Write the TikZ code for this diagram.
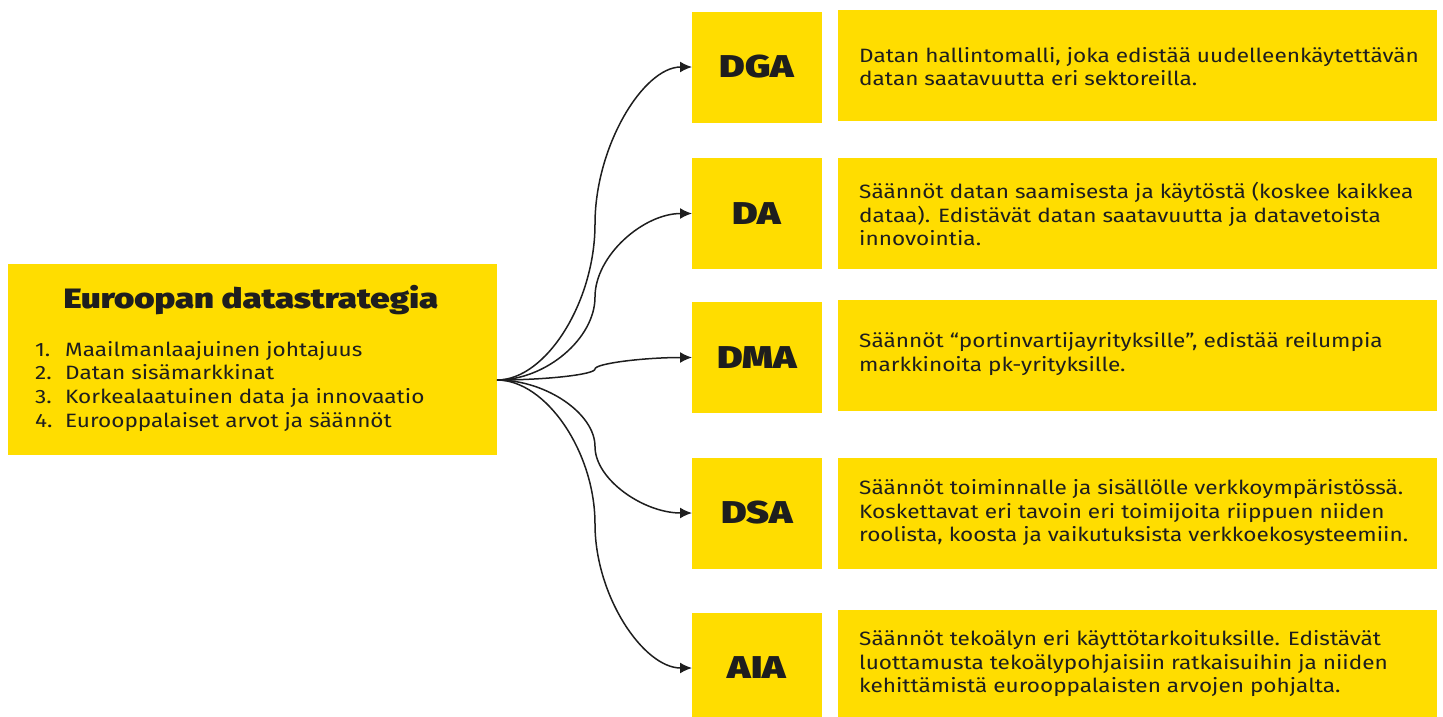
\documentclass[tikz,border=0pt]{standalone}
\usepackage{fontspec}
\setmainfont{Fira Sans}[FakeStretch=1.17]
\newfontfamily\heavy{Fira Sans Black}[FakeStretch=1.24]
\usetikzlibrary{arrows.meta}
\definecolor{ybox}{HTML}{FFDD00}
\definecolor{ink}{HTML}{1E1E1E}
\begin{document}
\begin{tikzpicture}[x=1pt,y=-1pt,
  yb/.style={fill=ybox, draw=none, inner sep=0pt, outer sep=0pt},
  labbox/.style={yb, minimum width=130pt, minimum height=111pt, text=ink, font=\heavy\fontsize{31.5}{34}\selectfont},
  descbox/.style={yb, minimum width=599pt, minimum height=111pt},
  desc/.style={anchor=west, align=left, inner sep=0pt, text=ink, font=\fontsize{19.3}{23.5}\selectfont},
  conn/.style={draw=ink, line width=1.5pt, -{Latex[length=12pt,width=11pt]}}]
\useasboundingbox (0,0) rectangle (1443,716);

% main box
\node[yb, minimum width=489pt, minimum height=191pt] (main) at (252.5,359.5) {};
\node[text=ink, inner sep=0pt, font=\heavy\fontsize{28}{32}\selectfont] (title) at (251,300) {Euroopan datastrategia};
\node[anchor=west, inner sep=0pt, text=ink, font=\fontsize{19.3}{23.8}\selectfont] (list) at (35,387)
  {\begin{tabular}{@{}p{30pt}@{}l@{}}
   1. & Maailmanlaajuinen johtajuus\\
   2. & Datan sisämarkkinat\\
   3. & Korkealaatuinen data ja innovaatio\\
   4. & Eurooppalaiset arvot ja säännöt
   \end{tabular}};

% label boxes
\node[labbox] (dga) at (757,67) {DGA};
\node[labbox] (da)  at (757,213.5) {DA};
\node[labbox] (dma) at (757,357.5) {DMA};
\node[labbox] (dsa) at (757,513) {DSA};
\node[labbox] (aia) at (757,668) {AIA};

% description boxes
\node[descbox] (tdga) at (1137.5,65.5) {};
\node[descbox] (tda)  at (1137.5,213.5) {};
\node[descbox] (tdma) at (1137.5,355) {};
\node[descbox] (tdsa) at (1137.5,513) {};
\node[descbox] (taia) at (1137.5,665) {};

\node[desc] (xdga) at (859,66.5) {Datan hallintomalli, joka edistää uudelleenkäytettävän\\datan saatavuutta eri sektoreilla.};
\node[desc] (xda) at (859,214) {Säännöt datan saamisesta ja käytöstä (koskee kaikkea\\dataa). Edistävät datan saatavuutta ja datavetoista\\innovointia.};
\node[desc] (xdma) at (859,354) {Säännöt “portinvartijayrityksille”, edistää reilumpia\\markkinoita pk-yrityksille.};
\node[desc] (xdsa) at (859,513) {Säännöt toiminnalle ja sisällölle verkkoympäristössä.\\Koskettavat eri tavoin eri toimijoita riippuen niiden\\roolista, koosta ja vaikutuksista verkkoekosysteemiin.};
\node[desc] (xaia) at (859,664) {Säännöt tekoälyn eri käyttötarkoituksille. Edistävät\\luottamusta tekoälypohjaisiin ratkaisuihin ja niiden\\kehittämistä eurooppalaisten arvojen pohjalta.};

% connectors
\coordinate (src) at (497,380);
\coordinate (m1) at (595,224);
\coordinate (m2) at (595,297);
\coordinate (m3) at (595,369);
\coordinate (m4) at (595,446.5);
\coordinate (m5) at (595,524);
\draw[conn] (src) .. controls +(49,0) and +(0,78) .. (m1) .. controls +(0,-78) and +(-48.5,0) .. (dga.west);
\draw[conn] (src) .. controls +(49,0) and +(0,41.5) .. (m2) .. controls +(0,-41.5) and +(-48.5,0) .. (da.west);
\draw[conn] (src) .. controls +(49,0) and +(0,5.5) .. (m3) .. controls +(0,-5.5) and +(-48.5,0) .. (dma.west);
\draw[conn] (src) .. controls +(49,0) and +(0,-33) .. (m4) .. controls +(0,33) and +(-48.5,0) .. (dsa.west);
\draw[conn] (src) .. controls +(49,0) and +(0,-72) .. (m5) .. controls +(0,72) and +(-48.5,0) .. (aia.west);
\end{tikzpicture}
\end{document}
